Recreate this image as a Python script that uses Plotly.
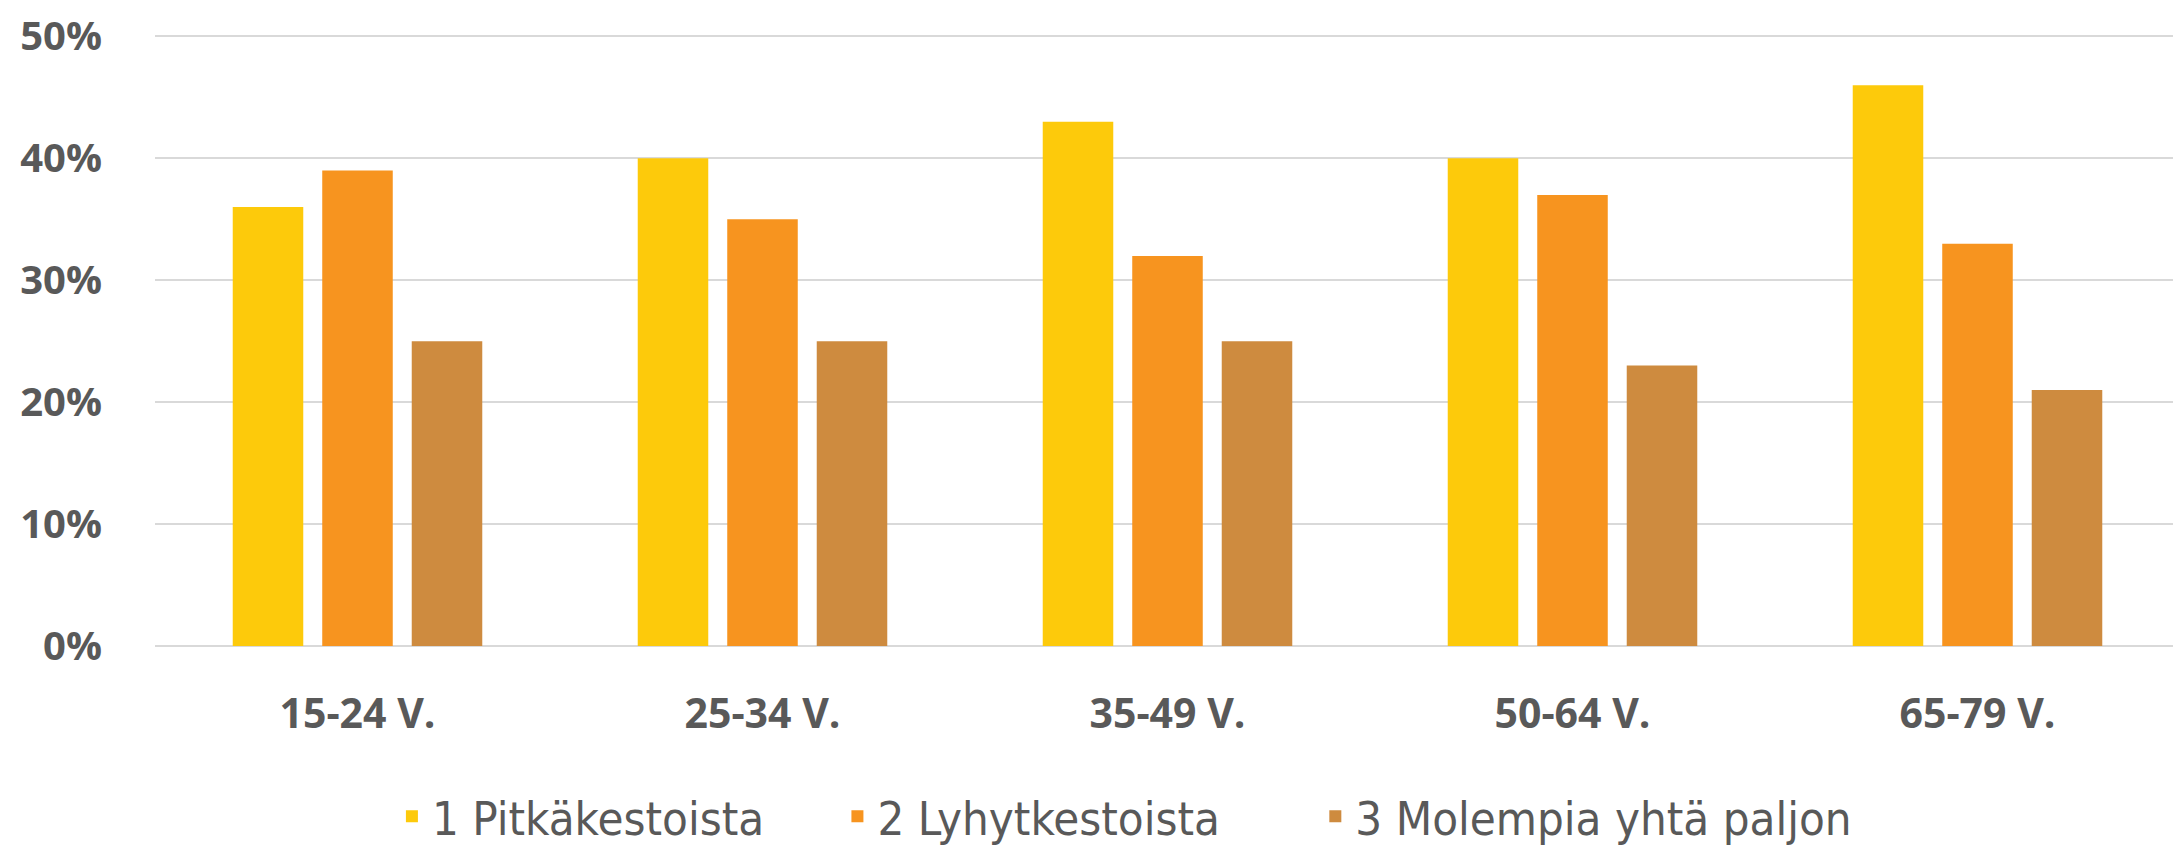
import plotly.graph_objects as go

categories = ["15-24 V.", "25-34 V.", "35-49 V.", "50-64 V.", "65-79 V."]
series_names = ["1 Pitkäkestoista", "2 Lyhytkestoista", "3 Molempia yhtä paljon"]
pitka = [36, 40, 43, 40, 46]
lyhyt = [39, 35, 32, 37, 33]
molemmat = [25, 25, 25, 23, 21]
y_ticks = [0, 10, 20, 30, 40, 50]
y_tick_labels = ["0%", "10%", "20%", "30%", "40%", "50%"]
colors = ["#FDCA0B", "#F7941F", "#CE8B3F"]

TEXT = "#595959"
FONT = "Open Sans"
LEG_FONT = dict(family="Liberation Sans Narrow, DejaVu Sans Condensed", size=47, color=TEXT)

legend_ids = ["legend", "legend2", "legend3"]
legend_x = [0.117, 0.337, 0.573]

fig = go.Figure()
for name, vals, col, lid in zip(series_names, [pitka, lyhyt, molemmat], colors, legend_ids):
    fig.add_trace(go.Bar(x=categories, y=vals, name=name, marker_color=col,
                         marker_line_width=0, legend=lid))

legends = {}
for lid, lx in zip(legend_ids, legend_x):
    legends[lid] = dict(orientation="h", x=lx, xanchor="left", y=-0.279, yanchor="middle",
                        font=LEG_FONT, itemwidth=30, bgcolor="rgba(0,0,0,0)")

# page body has an 8px default margin, so the figure is 8px smaller than the window
fig.update_layout(
    width=2173, height=844,
    paper_bgcolor="white", plot_bgcolor="white",
    margin=dict(l=147, r=1, t=26, b=206, autoexpand=False),
    barmode="group", bargap=0.337, bargroupgap=0.212,
    font=dict(family=FONT, color=TEXT),
    showlegend=True,
    **legends,
)
fig.update_xaxes(showgrid=False, showline=False, ticks="", automargin=False,
                 tickfont=dict(family=FONT, size=41, color=TEXT, weight="bold"),
                 ticklabelstandoff=40, ticklabeloverflow="allow")
fig.update_yaxes(range=[0, 50.2], tickmode="array", tickvals=y_ticks, ticktext=y_tick_labels,
                 showgrid=True, gridcolor="#D9D9D9",
                 gridwidth=2, zeroline=True, zerolinecolor="#D9D9D9", zerolinewidth=2,
                 showline=False, ticks="", automargin=False,
                 tickfont=dict(family=FONT, size=40, color=TEXT, weight="bold"),
                 ticklabelstandoff=52, ticklabeloverflow="allow")

fig.write_html("out.html")
